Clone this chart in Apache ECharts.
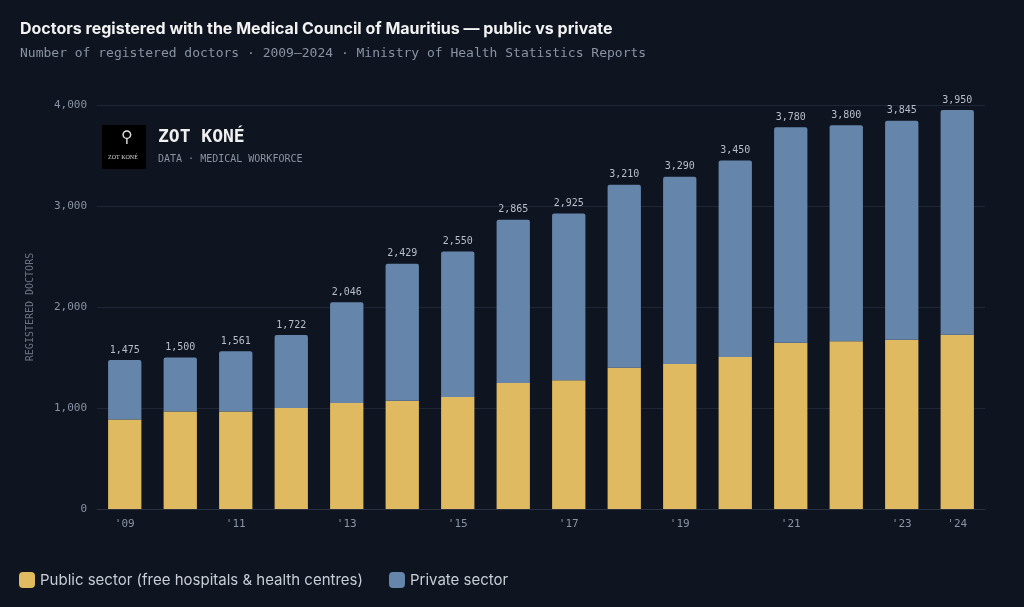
<!DOCTYPE html>
<html><head><meta charset="utf-8">
<script src="https://cdn.jsdelivr.net/npm/echarts@6/dist/echarts.min.js"></script>
<style>html,body{margin:0;background:#0e1420;}#c{width:1024px;height:607px;}</style>
</head><body><div id="c"></div>
<script>
const years = ['2009','2010','2011','2012','2013','2014','2015','2016','2017','2018','2019','2020','2021','2022','2023','2024'];
const totals = [1475,1500,1561,1722,2046,2429,2550,2865,2925,3210,3290,3450,3780,3800,3845,3950];
const publicSector = [885,965,965,1000,1050,1072,1109,1248,1274,1399,1436,1505,1647,1660,1676,1726];
const privateSector = totals.map((t,i)=>t-publicSector[i]);
const shownLabels = ['2009','2011','2013','2015','2017','2019','2021','2023','2024'];
const mono = '"DejaVu Sans Mono", monospace';
const chart = echarts.init(document.getElementById('c'));
chart.setOption({
  backgroundColor:'#0e1420',
  animation:false,
  title:{text:'Doctors registered with the Medical Council of Mauritius — public vs private',
    subtext:'Number of registered doctors · 2009–2024 · Ministry of Health Statistics Reports',
    left:15, top:16, itemGap:10,
    textStyle:{color:'#f2f2f2',fontSize:16,fontWeight:'bold',fontFamily:'Inter, sans-serif'},
    subtextStyle:{color:'#8a93a3',fontSize:13,fontFamily:mono}},
  grid:{left:97,right:39,top:105,bottom:98},
  legend:{left:14,bottom:14,itemWidth:16,itemHeight:16,itemGap:26,icon:'roundRect',
    textStyle:{color:'#c8cdd6',fontSize:15,fontFamily:'Inter, sans-serif'},
    data:['Public sector (free hospitals & health centres)','Private sector']},
  xAxis:{type:'category',data:years,
    axisLine:{lineStyle:{color:'#2a3242'}},axisTick:{show:false},
    axisLabel:{color:'#8a93a3',fontFamily:mono,fontSize:11,margin:10,
      interval:(i,v)=>shownLabels.includes(v),
      formatter:v=>"'"+v.slice(2)}},
  yAxis:{type:'value',min:0,max:4000,interval:1000,
    name:'REGISTERED DOCTORS',nameLocation:'middle',nameGap:62,nameRotate:90,
    nameTextStyle:{color:'#6b7383',fontFamily:mono,fontSize:10,letterSpacing:1.5},
    splitLine:{lineStyle:{color:'#1f2736'}},
    axisLabel:{color:'#8a93a3',fontFamily:mono,fontSize:11,margin:10,
      formatter:v=>v.toLocaleString('en-US')}},
  series:[
    {name:'Public sector (free hospitals & health centres)',type:'bar',stack:'t',data:publicSector,
      barWidth:'60%',itemStyle:{color:'#dfba60'}},
    {name:'Private sector',type:'bar',stack:'t',data:privateSector,
      itemStyle:{color:'#6685ab',borderRadius:[2,2,0,0]},
      label:{show:true,position:'top',distance:5,color:'#b8bfcb',fontFamily:mono,fontSize:10,
        formatter:p=>totals[p.dataIndex].toLocaleString('en-US')}}
  ],
  graphic:[
    {type:'rect',left:102,top:125,shape:{width:44,height:44},style:{fill:'#000'}},
    {type:'text',left:108,top:154,style:{text:'ZOT KONÉ',fill:'#ddd',font:'6px serif'}},
    {type:'text',left:121,top:130,style:{text:'⚲',fill:'#ddd',font:'16px sans-serif'}},
    {type:'text',left:158,top:128,style:{text:'ZOT KONÉ',fill:'#f0f0f0',font:'bold 18px "DejaVu Sans Mono", monospace'}},
    {type:'text',left:158,top:154,style:{text:'DATA · MEDICAL WORKFORCE',fill:'#8a93a3',font:'10px "DejaVu Sans Mono", monospace'}}
  ]
});
</script></body></html>
